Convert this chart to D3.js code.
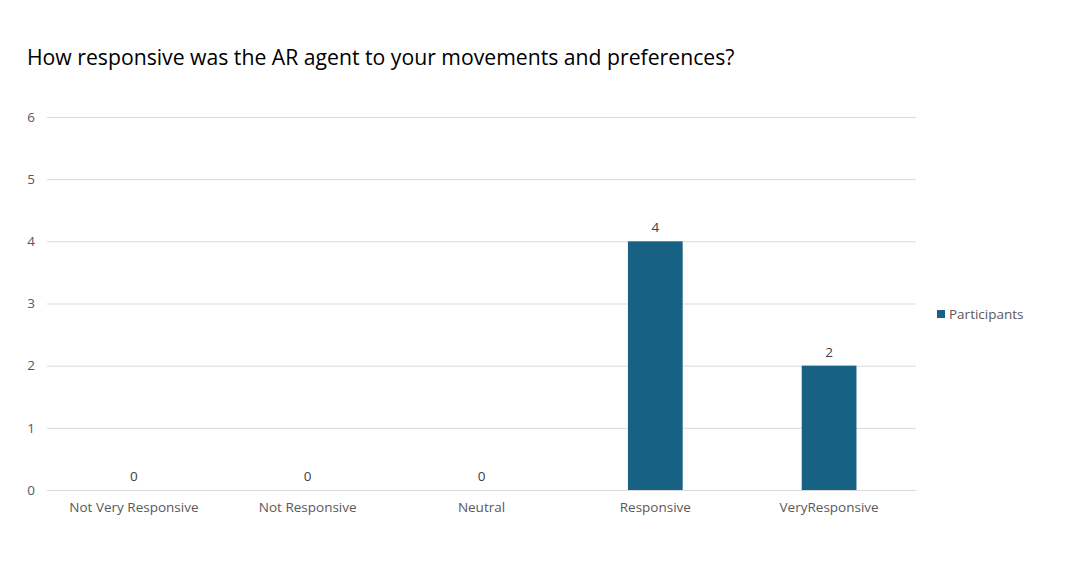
<!DOCTYPE html>
<html>
<head>
<meta charset="utf-8">
<script src="https://cdn.jsdelivr.net/npm/d3@7"></script>
<style>
  body { margin: 0; background: #fff; }
  text { font-family: "Open Sans", "Liberation Sans", sans-serif; }
</style>
</head>
<body>
<svg id="chart" width="1072" height="571"></svg>
<script>
// chart data
const categories = ['Not Very Responsive', 'Not Responsive', 'Neutral', 'Responsive', 'VeryResponsive']
const participants = [0, 0, 0, 4, 2]
const yTicks = [0, 1, 2, 3, 4, 5, 6]
const seriesName = 'Participants'

// plot box
const LEFT = 47
const RIGHT = 916
const TOP = 117
const BOTTOM = 490
const BAR_COLOR = '#176184'

const svg = d3.select('#chart')

svg.append('text')
  .attr('x', 27)
  .attr('y', 65)
  .attr('font-size', 21.2)
  .attr('fill', '#000')
  .text('How responsive was the AR agent to your movements and preferences?')

const x = d3.scaleBand()
  .domain(categories)
  .range([LEFT, RIGHT])
  .paddingInner(0.685)
  .paddingOuter(0.3425)

const y = d3.scaleLinear()
  .domain([0, 6])
  .range([BOTTOM, TOP])

// gridlines + y labels
const yAxis = d3.axisLeft(y)
  .tickValues(yTicks)
  .tickFormat(d3.format('d'))
  .tickSize(-(RIGHT - LEFT))
  .tickPadding(12)

svg.append('g')
  .attr('transform', `translate(${LEFT},0)`)
  .call(yAxis)
  .call((g) => {
    g.select('.domain').remove()
    g.selectAll('.tick line').attr('stroke', '#d9d9d9').attr('stroke-width', 1)
    g.selectAll('.tick text').attr('fill', '#595959').attr('font-size', 13.5)
      .attr('font-family', '"Open Sans", sans-serif')
  })

// x axis
const xAxis = d3.axisBottom(x).tickSize(0).tickPadding(12)
svg.append('g')
  .attr('transform', `translate(0,${BOTTOM})`)
  .call(xAxis)
  .call((g) => {
    g.select('.domain').attr('stroke', '#d9d9d9')
    g.selectAll('.tick text').attr('fill', '#595959').attr('font-size', 13.5)
      .attr('font-family', '"Open Sans", sans-serif')
  })

// bars
svg.selectAll('rect.bar')
  .data(participants)
  .join('rect')
  .attr('class', 'bar')
  .attr('x', (d, i) => x(categories[i]))
  .attr('width', x.bandwidth())
  .attr('y', (d) => y(d))
  .attr('height', (d) => BOTTOM - y(d))
  .attr('fill', BAR_COLOR)

// value labels
svg.selectAll('text.val')
  .data(participants)
  .join('text')
  .attr('class', 'val')
  .attr('x', (d, i) => x(categories[i]) + x.bandwidth() / 2)
  .attr('y', (d) => y(d) - 9)
  .attr('text-anchor', 'middle')
  .attr('font-size', 13.5)
  .attr('fill', '#404040')
  .text((d) => d)

// legend
const legend = svg.append('g').attr('transform', 'translate(937,310)')
legend.append('rect').attr('width', 8).attr('height', 8).attr('fill', BAR_COLOR)
legend.append('text')
  .attr('x', 12)
  .attr('y', 8.5)
  .attr('font-size', 13.5)
  .attr('fill', '#595959')
  .text(seriesName)
</script>
</body>
</html>
